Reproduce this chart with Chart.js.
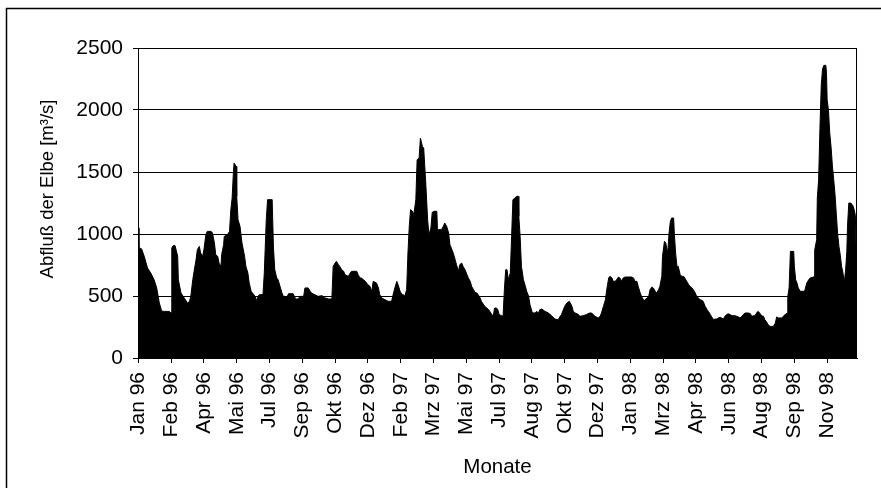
<!DOCTYPE html>
<html>
<head>
<meta charset="utf-8">
<script src="https://cdn.jsdelivr.net/npm/chart.js@4/dist/chart.umd.min.js"></script>
<style>
  html, body { margin: 0; padding: 0; background: #fff; }
  canvas { display: block; }
</style>
</head>
<body>
<canvas id="elbe" width="881" height="488"></canvas>
<script>
// Daily discharge of the Elbe, Jan 1996 - Dec 1998 (day 0 = 1 Jan 1996, 1096 days)
const tickDays = [0, 50, 100, 150, 200, 250, 300, 350, 400, 450, 500, 550,
                  600, 650, 700, 750, 800, 850, 900, 950, 1000, 1050];
const tickLabels = ['Jan 96', 'Feb 96', 'Apr 96', 'Mai 96', 'Jul 96', 'Sep 96', 'Okt 96',
                    'Dez 96', 'Feb 97', 'Mrz 97', 'Mai 97', 'Jul 97', 'Aug 97', 'Okt 97',
                    'Dez 97', 'Jan 98', 'Mrz 98', 'Apr 98', 'Jun 98', 'Aug 98', 'Sep 98', 'Nov 98'];
const yTicks = [0, 500, 1000, 1500, 2000, 2500];

// sampled days and discharge in m³/s
const sampleDay = [
  0, 1, 5, 9, 14, 19, 24, 28, 32, 35, 37, 47, 50, 51, 53, 56, 60, 61, 65, 70,
  75, 78, 80, 83, 85, 88, 90, 93, 95, 98, 100, 103, 105, 111, 113, 116, 118, 121, 123, 126,
  127, 130, 131, 136, 139, 141, 143, 145, 146, 149, 150, 152, 155, 158, 162, 164, 167, 169, 172, 174,
  178, 180, 182, 185, 190, 192, 195, 197, 201, 204, 206, 208, 211, 213, 216, 219, 221, 224, 226, 229,
  236, 239, 241, 244, 246, 252, 254, 259, 262, 264, 269, 274, 280, 285, 290, 295, 297, 300, 302, 305,
  307, 310, 313, 315, 320, 323, 325, 333, 335, 338, 340, 346, 350, 353, 356, 358, 363, 366, 368, 371,
  376, 381, 386, 389, 391, 394, 396, 399, 402, 404, 406, 409, 411, 413, 415, 418, 420, 423, 425, 428,
  430, 433, 435, 438, 441, 443, 446, 448, 451, 455, 456, 462, 465, 467, 470, 473, 475, 478, 480, 483,
  485, 488, 490, 493, 495, 498, 500, 503, 506, 508, 511, 513, 516, 518, 521, 523, 528, 534, 539, 541,
  543, 546, 548, 550, 554, 556, 558, 560, 562, 564, 567, 569, 571, 574, 577, 579, 580, 582, 584, 587,
  590, 592, 595, 597, 600, 602, 605, 607, 610, 612, 615, 620, 625, 630, 635, 640, 643, 645, 650, 653,
  657, 661, 663, 666, 671, 673, 678, 683, 688, 691, 696, 701, 704, 706, 709, 712, 714, 717, 719, 722,
  724, 727, 729, 732, 734, 737, 739, 742, 752, 755, 757, 760, 762, 765, 767, 770, 772, 775, 778, 780,
  783, 785, 788, 790, 793, 795, 798, 799, 802, 804, 807, 809, 811, 813, 816, 817, 819, 821, 823, 826,
  828, 831, 833, 836, 839, 841, 844, 846, 849, 851, 854, 856, 859, 861, 864, 867, 869, 872, 874, 877,
  879, 882, 884, 887, 889, 892, 894, 897, 899, 902, 905, 910, 912, 915, 917, 920, 922, 925, 930, 933,
  935, 938, 940, 943, 945, 948, 950, 953, 955, 958, 960, 963, 968, 971, 973, 976, 981, 983, 986, 989,
  990, 992, 994, 999, 1000, 1002, 1004, 1006, 1009, 1014, 1016, 1019, 1022, 1024, 1027, 1030, 1031, 1034, 1035, 1037,
  1039, 1041, 1043, 1045, 1048, 1049, 1050, 1052, 1054, 1056, 1058, 1060, 1062, 1064, 1066, 1068, 1070, 1072, 1074, 1076,
  1078, 1080, 1081, 1083, 1086, 1089, 1091, 1093, 1094, 1095
];
const discharge = [
  1050, 890, 880, 820, 726, 685, 632, 565, 443, 390, 376, 376, 363, 887, 906, 906, 820, 632, 524, 484,
  443, 457, 497, 632, 699, 793, 874, 900, 847, 820, 874, 995, 1021, 1021, 1008, 927, 833, 820, 766, 739,
  833, 914, 981, 995, 1021, 1196, 1290, 1505, 1572, 1546, 1304, 1115, 1062, 927, 820, 739, 685, 605, 538, 524,
  497, 457, 497, 511, 511, 685, 1115, 1277, 1277, 1277, 887, 712, 645, 632, 578, 524, 497, 497, 484, 519,
  519, 484, 476, 476, 497, 497, 565, 565, 538, 524, 511, 497, 503, 484, 476, 476, 739, 766, 780, 753,
  739, 712, 699, 672, 659, 685, 699, 699, 672, 645, 645, 618, 591, 578, 538, 618, 605, 565, 511, 484,
  470, 457, 457, 524, 565, 618, 591, 538, 511, 511, 497, 551, 847, 1062, 1196, 1183, 1156, 1277, 1599, 1612,
  1774, 1707, 1693, 1425, 1115, 995, 1048, 1175, 1183, 1183, 1035, 1035, 1062, 1089, 1062, 1008, 914, 874, 847, 793,
  753, 699, 753, 766, 739, 712, 685, 645, 618, 578, 551, 530, 524, 511, 484, 457, 417, 390, 350, 336,
  403, 403, 390, 350, 341, 336, 551, 712, 712, 632, 685, 981, 1277, 1290, 1304, 1304, 1142, 981, 739, 632,
  578, 538, 497, 430, 376, 363, 363, 376, 363, 390, 395, 376, 363, 341, 314, 309, 336, 350, 417, 443,
  457, 417, 376, 363, 350, 336, 341, 350, 363, 363, 336, 323, 336, 363, 417, 470, 551, 645, 659, 645,
  618, 618, 632, 653, 645, 618, 645, 653, 653, 645, 618, 618, 578, 524, 497, 470, 465, 484, 497, 551,
  573, 565, 538, 524, 551, 578, 659, 820, 941, 927, 847, 1008, 1102, 1129, 1129, 1008, 847, 739, 739, 672,
  659, 659, 645, 618, 591, 578, 565, 551, 524, 497, 484, 470, 465, 457, 417, 390, 376, 350, 331, 309,
  314, 314, 323, 328, 323, 314, 336, 350, 357, 350, 341, 341, 336, 331, 323, 336, 350, 363, 363, 357,
  336, 341, 341, 368, 376, 357, 341, 336, 309, 288, 269, 255, 255, 282, 331, 323, 323, 336, 350, 363,
  497, 565, 860, 860, 739, 632, 605, 565, 538, 538, 546, 605, 632, 645, 650, 655, 870, 954, 1290, 1438,
  1850, 2200, 2330, 2360, 2360, 2300, 2082, 2000, 1812, 1700, 1550, 1440, 1320, 1160, 1000, 900, 830, 740, 690, 610,
  700, 860, 1062, 1250, 1250, 1230, 1200, 1150, 900, 900
];

const FONT = '"Liberation Sans", Arial, Helvetica, sans-serif';
Chart.defaults.font.family = FONT;
Chart.defaults.color = '#000';

const points = sampleDay.map((d, i) => ({ x: d, y: discharge[i] }));

// white page, chart frame, plot box and axis titles
const decorations = {
  id: 'decorations',
  beforeDraw(chart) {
    const ctx = chart.ctx;
    ctx.save();
    ctx.fillStyle = '#fff';
    ctx.fillRect(0, 0, chart.width, chart.height);
    ctx.restore();
  },
  afterDraw(chart) {
    const { ctx, chartArea: a } = chart;
    ctx.save();
    ctx.strokeStyle = '#000';
    ctx.lineWidth = 1;
    ctx.beginPath();
    ctx.moveTo(a.left, a.top + 0.5);
    ctx.lineTo(a.right - 0.5, a.top + 0.5);
    ctx.lineTo(a.right - 0.5, a.bottom);
    ctx.stroke();

    ctx.lineWidth = 1.5;
    ctx.beginPath();
    ctx.moveTo(6.5, chart.height);
    ctx.lineTo(6.5, 8.5);
    ctx.lineTo(chart.width, 8.5);
    ctx.stroke();

    ctx.fillStyle = '#000';
    ctx.textAlign = 'center';
    ctx.textBaseline = 'middle';
    ctx.font = '20.5px ' + FONT;
    ctx.fillText('Monate', (a.left + a.right) / 2, 467);

    ctx.translate(48, 189);
    ctx.rotate(-Math.PI / 2);
    ctx.font = '18.5px ' + FONT;
    ctx.fillText('Abfluß der Elbe [m³/s]', 0, 0);
    ctx.restore();
  }
};

new Chart(document.getElementById('elbe'), {
  type: 'line',
  data: {
    datasets: [{
      data: points,
      borderColor: '#000',
      backgroundColor: '#000',
      borderWidth: 1,
      fill: 'origin',
      pointRadius: 0,
      tension: 0
    }]
  },
  options: {
    responsive: false,
    animation: false,
    devicePixelRatio: 1,
    layout: { padding: { left: 0, top: 48, right: 24, bottom: 0 } },
    plugins: { legend: { display: false }, tooltip: { enabled: false } },
    scales: {
      x: {
        type: 'linear',
        min: -0.5,
        max: 1095.5,
        afterFit(scale) { scale.height = 130; },
        afterBuildTicks(scale) { scale.ticks = tickDays.map(v => ({ value: v })); },
        grid: { drawOnChartArea: false, drawTicks: true, tickLength: 5, color: '#000' },
        border: { color: '#000', width: 1 },
        ticks: {
          autoSkip: false,
          minRotation: 90,
          maxRotation: 90,
          padding: 9,
          font: { size: 21 },
          color: '#000',
          callback: (v, i) => tickLabels[i]
        }
      },
      y: {
        min: 0,
        max: 2500,
        afterFit(scale) { scale.width = 138; },
        afterBuildTicks(scale) { scale.ticks = yTicks.map(v => ({ value: v })); },
        grid: { color: '#000', lineWidth: 1, tickLength: 5, tickColor: '#000' },
        border: { color: '#000', width: 1 },
        ticks: {
          padding: 10,
          font: { size: 21 },
          color: '#000',
          callback: v => String(v)
        }
      }
    }
  },
  plugins: [decorations]
});
</script>
</body>
</html>
